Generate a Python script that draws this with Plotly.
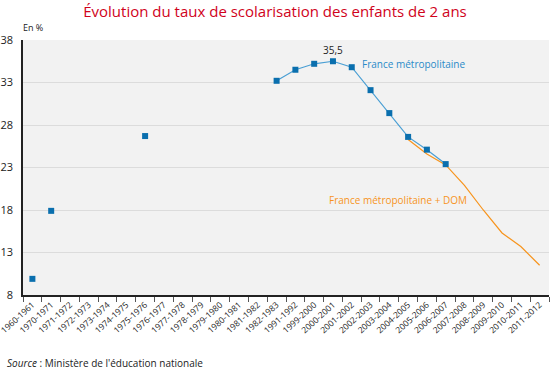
import plotly.graph_objects as go

categories = ["1960-1961", "1970-1971", "1971-1972", "1972-1973", "1973-1974", "1974-1975",
              "1975-1976", "1976-1977", "1977-1978", "1978-1979", "1979-1980", "1980-1981",
              "1981-1982", "1982-1983", "1991-1992", "1999-2000", "2000-2001", "2001-2002",
              "2002-2003", "2003-2004", "2004-2005", "2005-2006", "2006-2007", "2007-2008",
              "2008-2009", "2009-2010", "2010-2011", "2011-2012"]

# isolated early observations (not joined by a line)
metro_early = [9.9, 17.9, None, None, None, None, 26.7] + [None] * 21

metro = [None] * 13 + [33.2, 34.5, 35.2, 35.5, 34.8, 32.1, 29.4, 26.6, 25.1, 23.4] + [None] * 5

metro_dom = [None] * 20 + [26.3, 24.6, 23.3, 20.9, 18.0, 15.3, 13.7, 11.5]

y_ticks = [8, 13, 18, 23, 28, 33, 38]

FONT = "Open Sans"
MARKER = dict(symbol="square", size=6, color="#0a6fae")

fig = go.Figure()
fig.add_trace(go.Scatter(
    x=categories, y=metro_dom, mode="lines",
    line=dict(color="#f7941d", width=1.2), connectgaps=False,
    hoverinfo="skip", showlegend=False))
fig.add_trace(go.Scatter(
    x=categories, y=metro, mode="lines+markers",
    line=dict(color="#4a9fd4", width=1.2), connectgaps=False,
    marker=MARKER, showlegend=False))
fig.add_trace(go.Scatter(
    x=categories, y=metro_early, mode="markers",
    marker=MARKER, showlegend=False))

fig.add_annotation(x=categories[16], y=35.5, text="35,5", showarrow=False,
                   yshift=11, font=dict(family=FONT, size=10, color="#222"))
fig.add_annotation(x=categories[17], y=35.2, text="France métropolitaine", showarrow=False,
                   xanchor="left", xshift=8, font=dict(family=FONT, size=10, color="#2a8ac8"))
fig.add_annotation(x=categories[22], y=19.2, text="France métropolitaine + DOM", showarrow=False,
                   xanchor="center", xshift=-48, font=dict(family=FONT, size=10, color="#f7941d"))

fig.add_annotation(xref="paper", yref="paper", x=0, y=1, text="En %", showarrow=False,
                   xanchor="left", yanchor="bottom", yshift=4, xshift=-2,
                   font=dict(family=FONT, size=9, color="#222"))
fig.add_annotation(xref="paper", yref="paper", x=-0.035, y=-0.268,
                   text="<i>Source</i> : Ministère de l'éducation nationale", showarrow=False,
                   xanchor="left", yanchor="middle",
                   font=dict(family=FONT, size=10, color="#222"))

fig.update_layout(
    width=550, height=371,
    margin=dict(l=23, r=1, t=40, b=76, autoexpand=False),
    paper_bgcolor="white", plot_bgcolor="#f2f2f2",
    title=dict(text="Évolution du taux de scolarisation des enfants de 2 ans",
               x=0.5, xanchor="center", y=0.968, yanchor="middle",
               font=dict(family=FONT, size=15, color="#d0021b")),
    font=dict(family=FONT, color="#222"),
)
fig.update_xaxes(
    type="category", tickangle=-42, tickfont=dict(family=FONT, size=8.5, color="#222"),
    showline=True, linecolor="#222", linewidth=1.5, automargin=False,
    ticks="outside", tickson="boundaries", ticklen=5, tickcolor="#555",
    showgrid=False, range=[-0.5, len(categories) - 0.5])
fig.update_yaxes(
    range=[8, 38], tickvals=y_ticks, tickfont=dict(family=FONT, size=11, color="#222"),
    showline=True, linecolor="#222", linewidth=1.5, automargin=False,
    gridcolor="#dcdcdc", gridwidth=1, zeroline=False, ticks="", ticklabelstandoff=6)

fig.write_html("out.html", config={"displayModeBar": False},
               post_script="document.body.style.margin='0';document.body.style.overflow='hidden';")
